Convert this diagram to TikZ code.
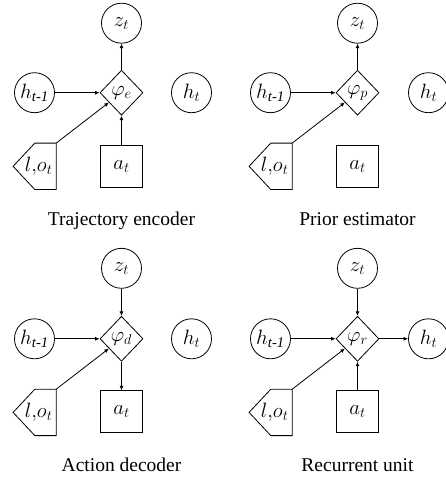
\documentclass[tikz,border=0pt]{standalone}
\usepackage{amsmath}
\usepackage{fontspec}
\setmainfont{Liberation Serif}
\usetikzlibrary{shapes.geometric,arrows.meta}
\tikzset{
  every node/.style={font=\fontsize{21}{24}\selectfont},
  circ/.style={draw, circle, minimum size=40pt, inner sep=0pt, line width=0.8pt},
  dia/.style={draw, diamond, minimum width=43pt, minimum height=45pt, inner sep=0pt, line width=0.8pt},
  sq/.style={draw, rectangle, minimum size=42pt, inner sep=0pt, line width=0.8pt},
  lobox/.style={rectangle, minimum width=42.7pt, minimum height=46pt, inner sep=0pt},
  shp/.style={line width=0.8pt},
  arr/.style={-{Latex[length=4.5pt,width=4pt]}, line width=0.8pt},
  caption/.style={anchor=base, font=\fontsize{19.5}{22}\selectfont},
}
\newcommand{\lolabel}{\hspace*{8pt}$l{,}o_t$}
\newcommand{\hprev}{$h_{\mathit{t}\text{-}\mathit{1}}$}
\begin{document}
\begin{tikzpicture}[x=1pt,y=-1pt]
\useasboundingbox (0,0) rectangle (446,480);
% Panel 1: Trajectory encoder
\begin{scope}[shift={(121.5,92.7)}]
  \node[dia] (phi1) at (0,0) {$\varphi_e$};
  \node[circ] (z1) at (0,-69.5) {$z_t$};
  \node[circ] (hp1) at (-87,0) {\hprev};
  \node[circ] (ht1) at (70,0) {$h_t$};
  \node[lobox] (lo1) at (-86.85,73.6) {\lolabel};
  \draw[shp] (lo1.north east) -- (lo1.south east) -- ([xshift=21.7pt]lo1.south west) -- (lo1.west) -- ([xshift=21.7pt]lo1.north west) -- cycle;
  \node[sq] (a1) at (0,74) {$a_t$};
  \node[caption] (c1) at (0,133) {Trajectory encoder};
  \draw[arr] (hp1) -- (phi1);
  \draw[arr] (lo1.north east) -- (phi1);
  \draw[arr] (a1) -- (phi1);
  \draw[arr] (phi1) -- (z1);
\end{scope}
% Panel 2: Prior estimator
\begin{scope}[shift={(357.5,92.7)}]
  \node[dia] (phi2) at (0,0) {$\varphi_p$};
  \node[circ] (z2) at (0,-69.5) {$z_t$};
  \node[circ] (hp2) at (-87,0) {\hprev};
  \node[circ] (ht2) at (71,0) {$h_t$};
  \node[lobox] (lo2) at (-86.85,73.6) {\lolabel};
  \draw[shp] (lo2.north east) -- (lo2.south east) -- ([xshift=21.7pt]lo2.south west) -- (lo2.west) -- ([xshift=21.7pt]lo2.north west) -- cycle;
  \node[sq] (a2) at (0,74) {$a_t$};
  \node[caption] (c2) at (0,133) {Prior estimator};
  \draw[arr] (hp2) -- (phi2);
  \draw[arr] (lo2.north east) -- (phi2);
  \draw[arr] (phi2) -- (z2);
\end{scope}
% Panel 3: Action decoder
\begin{scope}[shift={(121.5,338.8)}]
  \node[dia] (phi3) at (0,0) {$\varphi_d$};
  \node[circ] (z3) at (0,-70.5) {$z_t$};
  \node[circ] (hp3) at (-87,0) {\hprev};
  \node[circ] (ht3) at (70,0) {$h_t$};
  \node[lobox] (lo3) at (-86.85,73.6) {\lolabel};
  \draw[shp] (lo3.north east) -- (lo3.south east) -- ([xshift=21.7pt]lo3.south west) -- (lo3.west) -- ([xshift=21.7pt]lo3.north west) -- cycle;
  \node[sq] (a3) at (0,73) {$a_t$};
  \node[caption] (c3) at (0,133) {Action decoder};
  \draw[arr] (hp3) -- (phi3);
  \draw[arr] (lo3.north east) -- (phi3);
  \draw[arr] (z3) -- (phi3);
  \draw[arr] (phi3) -- (a3);
\end{scope}
% Panel 4: Recurrent unit
\begin{scope}[shift={(357.5,338.8)}]
  \node[dia] (phi4) at (0,0) {$\varphi_r$};
  \node[circ] (z4) at (0,-70.5) {$z_t$};
  \node[circ] (hp4) at (-87,0) {\hprev};
  \node[circ] (ht4) at (71,0) {$h_t$};
  \node[lobox] (lo4) at (-86.85,73.6) {\lolabel};
  \draw[shp] (lo4.north east) -- (lo4.south east) -- ([xshift=21.7pt]lo4.south west) -- (lo4.west) -- ([xshift=21.7pt]lo4.north west) -- cycle;
  \node[sq] (a4) at (0,73) {$a_t$};
  \node[caption] (c4) at (0,133) {Recurrent unit};
  \draw[arr] (hp4) -- (phi4);
  \draw[arr] (lo4.north east) -- (phi4);
  \draw[arr] (z4) -- (phi4);
  \draw[arr] (a4) -- (phi4);
  \draw[arr] (phi4) -- (ht4);
\end{scope}
\end{tikzpicture}
\end{document}
